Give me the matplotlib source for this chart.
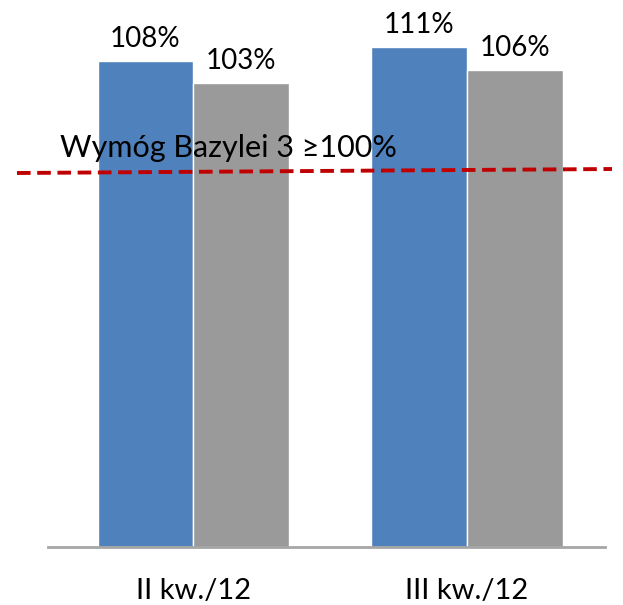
import matplotlib
matplotlib.use("Agg")
import matplotlib.pyplot as plt
import numpy as np

plt.rcParams['font.family'] = ['Lato', 'DejaVu Sans']

categories = ["II kw./12", "III kw./12"]
series_a = [108, 111]
series_b = [103, 106]
requirement_label = "Wymóg Bazylei 3 ≥100%"

W, H = 623, 605
fig = plt.figure(figsize=(W / 100, H / 100), dpi=100)
ax = fig.add_axes([48 / W, 1 - 547 / H, 557 / W, 547 / H])

x = np.arange(len(categories))
bw = 0.35
bars_a = ax.bar(x - bw / 2, series_a, bw, color="#4F81BD", edgecolor="white", linewidth=1)
bars_b = ax.bar(x + bw / 2, series_b, bw, color="#9A9A9A", edgecolor="white", linewidth=1)

for bars, vals in ((bars_a, series_a), (bars_b, series_b)):
    for b, v in zip(bars, vals):
        ax.annotate(f"{v}%", (b.get_x() + b.get_width() / 2, v),
                    xytext=(0, 10), textcoords="offset points",
                    ha="center", va="baseline", fontsize=20)

ax.set_xlim(-0.531, 1.504)
ax.set_ylim(0, 121.5)
ax.set_xticks(x)
ax.set_xticklabels(categories, fontsize=21)
ax.tick_params(axis="x", length=0, pad=22)
ax.set_yticks([])
for s in ("left", "right", "top"):
    ax.spines[s].set_visible(False)
ax.spines["bottom"].set_color("#A6A6A6")
ax.spines["bottom"].set_linewidth(2)

# requirement line drawn across the figure
fig.add_artist(plt.Line2D([17 / W, 612 / W], [1 - 173 / H, 1 - 169 / H],
                          color="#C00000", linewidth=2.8, linestyle=(0, (3.5, 1.7))))
fig.text(60 / W, 1 - 157 / H, requirement_label, fontsize=22, ha="left", va="baseline")

fig.savefig("out.png", dpi=100)
